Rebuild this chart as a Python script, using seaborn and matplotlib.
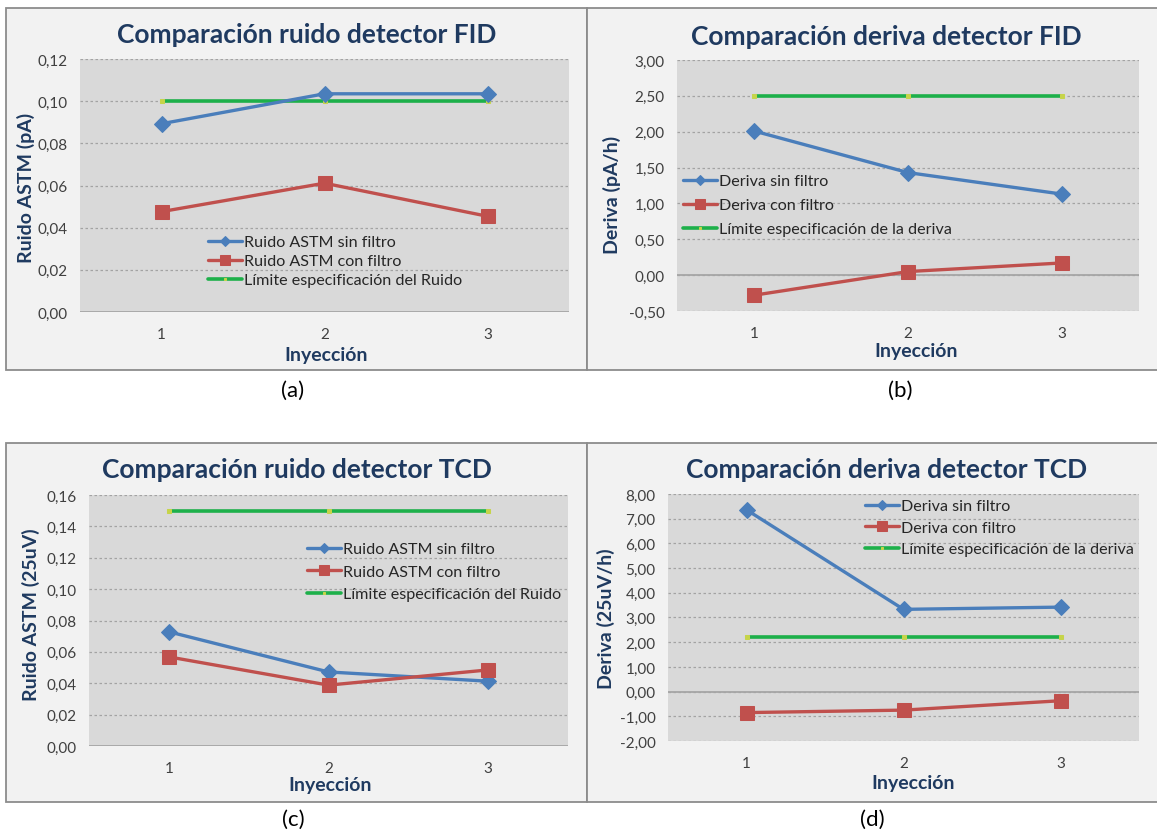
import numpy as np
import pandas as pd
import matplotlib
matplotlib.use("Agg")
import matplotlib.pyplot as plt
import seaborn as sns
from matplotlib.ticker import FuncFormatter, MultipleLocator
from matplotlib.patches import Rectangle

# ---------------- data ----------------
inyeccion = [1, 2, 3]

fid_ruido_sin = [0.0893, 0.1035, 0.1035]
fid_ruido_con = [0.0476, 0.0611, 0.0454]
fid_ruido_lim = [0.10, 0.10, 0.10]

fid_deriva_sin = [2.01, 1.43, 1.13]
fid_deriva_con = [-0.28, 0.05, 0.17]
fid_deriva_lim = [2.50, 2.50, 2.50]

tcd_ruido_sin = [0.0728, 0.0472, 0.0413]
tcd_ruido_con = [0.0568, 0.0388, 0.0485]
tcd_ruido_lim = [0.15, 0.15, 0.15]

tcd_deriva_sin = [7.36, 3.33, 3.42]
tcd_deriva_con = [-0.85, -0.75, -0.37]
tcd_deriva_lim = [2.20, 2.20, 2.20]

titles = ["Comparación ruido detector FID", "Comparación deriva detector FID",
          "Comparación ruido detector TCD", "Comparación deriva detector TCD"]
ylabels = ["Ruido ASTM (pA)", "Deriva (pA/h)", "Ruido ASTM (25uV)", "Deriva (25uV/h)"]
xlabel = "Inyección"
captions = ["(a)", "(b)", "(c)", "(d)"]
labels_ruido = ["Ruido ASTM sin filtro", "Ruido ASTM con filtro", "Límite especificación del Ruido"]
labels_deriva = ["Deriva sin filtro", "Deriva con filtro", "Límite especificación de la deriva"]

series = [
    (fid_ruido_sin, fid_ruido_con, fid_ruido_lim, labels_ruido),
    (fid_deriva_sin, fid_deriva_con, fid_deriva_lim, labels_deriva),
    (tcd_ruido_sin, tcd_ruido_con, tcd_ruido_lim, labels_ruido),
    (tcd_deriva_sin, tcd_deriva_con, tcd_deriva_lim, labels_deriva),
]
ylims = [(0, 0.12, 0.02), (-0.5, 3.0, 0.5), (0, 0.16, 0.02), (-2, 8, 1)]

# ---------------- layout (pixels) ----------------
W, H = 1157, 837
layout = [
    dict(plot=(80, 569, 60, 313), box=(6, 587, 9, 371), title=(307, 35), ylab=(26, 188),
         xlab=(326, 356), cap=(293, 391), leg=(208, 245, 19.5)),
    dict(plot=(677, 1139, 61, 312), box=(587, 1160, 9, 371), title=(886, 37), ylab=(612, 195),
         xlab=(916, 352), cap=(900, 391), leg=(683, 184, 24.5)),
    dict(plot=(89, 568, 496, 747), box=(6, 587, 444, 803), title=(297, 470), ylab=(31, 615),
         xlab=(330, 786), cap=(293, 820), leg=(307, 552, 23)),
    dict(plot=(668, 1139, 495, 742), box=(587, 1160, 444, 803), title=(887, 470), ylab=(606, 619),
         xlab=(913, 784), cap=(872, 820), leg=(865, 509, 22)),
]

sns.set_style("white")
plt.rcParams["font.family"] = ["Lato", "DejaVu Sans"]

NAVY = "#1F3A60"
BLUE = "#4A7EBB"
RED = "#C0504D"
GREEN = "#1DB04A"

fig = plt.figure(figsize=(W / 100, H / 100), dpi=100)
fig.patch.set_facecolor("white")


def fx(p):
    return p / W


def fy(p):
    return 1 - p / H


def comma_fmt(v, pos):
    return f"{v:.2f}".replace(".", ",")


LEG_FS = 11.6

for i in range(4):
    L = layout[i]
    x0, x1, y0, y1 = L["box"]
    fig.add_artist(Rectangle((fx(x0), fy(y1)), (x1 - x0) / W, (y1 - y0) / H,
                             transform=fig.transFigure, facecolor="#F2F2F2",
                             edgecolor="#8C8C8C", lw=1.3, zorder=-5))
    l, r, t, b = L["plot"]
    ax = fig.add_axes([fx(l), fy(b), (r - l) / W, (b - t) / H])
    ax.set_facecolor("#D9D9D9")

    sin, con, lim, labs = series[i]
    sns.lineplot(x=inyeccion, y=lim, ax=ax, color=GREEN, lw=2.6, marker="s",
                 markersize=2.5, markerfacecolor="#C6D44A", markeredgecolor="#C6D44A",
                 label=labs[2], zorder=3)
    sns.lineplot(x=inyeccion, y=sin, ax=ax, color=BLUE, lw=2.4, marker="D",
                 markersize=8, markeredgecolor=BLUE, label=labs[0], zorder=4)
    sns.lineplot(x=inyeccion, y=con, ax=ax, color=RED, lw=2.4, marker="s",
                 markersize=9.5, markeredgecolor=RED, label=labs[1], zorder=4)

    ymin, ymax, step = ylims[i]
    ax.set_ylim(ymin, ymax)
    ax.set_xlim(0.5, 3.5)
    ax.yaxis.set_major_locator(MultipleLocator(step))
    ax.yaxis.set_major_formatter(FuncFormatter(comma_fmt))
    ax.set_xticks(inyeccion)
    ax.set_xticklabels([str(v) for v in inyeccion])
    ax.yaxis.grid(True, linestyle=(0, (2, 2)), color="#A3A3A3", lw=0.9)
    ax.xaxis.grid(False)
    ax.set_axisbelow(True)
    ax.axhline(0, color="#A6A6A6", lw=1.3, zorder=1)
    for s in ax.spines.values():
        s.set_visible(False)
    ax.tick_params(axis="both", length=0, labelsize=11, labelcolor="#404040")
    ax.tick_params(axis="y", pad=9)
    ax.tick_params(axis="x", pad=11)

    # labels
    ylab = ax.set_ylabel(ylabels[i], fontsize=14, fontweight="bold", color=NAVY)
    ylab.set_rotation_mode("default")
    ylab.set_ha("center")
    ylab.set_va("center")
    yx, yy = L["ylab"]
    ax.yaxis.set_label_coords((yx - l) / (r - l), (b - yy) / (b - t))

    xlab = ax.set_xlabel(xlabel, fontsize=14, fontweight="bold", color=NAVY)
    xlab.set_va("center")
    xx, xy = L["xlab"]
    ax.xaxis.set_label_coords((xx - l) / (r - l), (b - xy) / (b - t))

    tx, ty = L["title"]
    fig.text(fx(tx), fy(ty), titles[i], ha="center", va="center", fontsize=19,
             fontweight="bold", color=NAVY)
    cx, cy = L["cap"]
    fig.text(fx(cx), fy(cy), captions[i], ha="center", va="center", fontsize=16,
             color="black")

    # legend
    handles, lbls = ax.get_legend_handles_labels()
    order = [lbls.index(labs[0]), lbls.index(labs[1]), lbls.index(labs[2])]
    lx, ly, sp = L["leg"]
    fs_px = LEG_FS * 100 / 72
    ax.legend([handles[k] for k in order], [lbls[k] for k in order],
              loc="upper left", bbox_to_anchor=(fx(lx), fy(ly - 0.55 * fs_px)),
              bbox_transform=fig.transFigure, frameon=False, fontsize=LEG_FS,
              handlelength=2.1, handletextpad=0.12, borderpad=0, borderaxespad=0,
              labelspacing=max(0.0, (sp - 0.92 * fs_px) / fs_px), markerscale=0.7)

fig.savefig("out.png", dpi=100, facecolor="white")
